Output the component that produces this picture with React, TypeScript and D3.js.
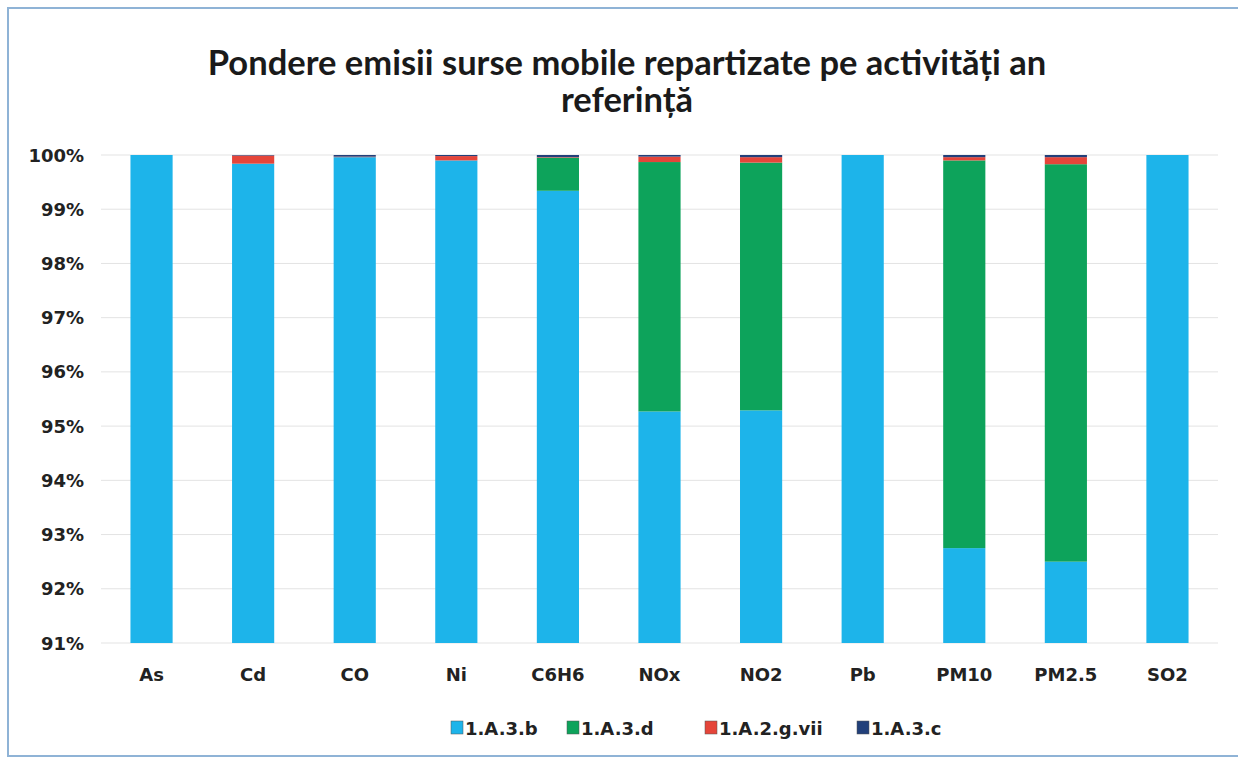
import React from "react";
import * as d3 from "d3";

const categories = ["As", "Cd", "CO", "Ni", "C6H6", "NOx", "NO2", "Pb", "PM10", "PM2.5", "SO2"];
const seriesNames = ["1.A.3.b", "1.A.3.d", "1.A.2.g.vii", "1.A.3.c"];
const s_1A3b = [100, 99.84, 99.96, 99.9, 99.34, 95.27, 95.29, 100, 92.75, 92.5, 100];
const s_1A3d = [0, 0, 0, 0, 0.61, 4.6, 4.57, 0, 7.15, 7.33, 0];
const s_1A2gvii = [0, 0.15, 0.01, 0.08, 0.01, 0.1, 0.1, 0, 0.06, 0.13, 0];
const s_1A3c = [0, 0.01, 0.03, 0.02, 0.04, 0.03, 0.04, 0, 0.04, 0.04, 0];
const yTicks = [91, 92, 93, 94, 95, 96, 97, 98, 99, 100];
const colors = ["#1db4ea", "#0da35b", "#e5453a", "#22407a"];

const TFONT = "Lato, 'Open Sans', sans-serif";
const FONT = "'DejaVu Sans', Verdana, sans-serif";

export default function App() {
  const W = 1238, H = 759;
  const left = 101, right = 1218, top = 155, bottom = 643;
  const rows = categories.map((c, i) => ({
    cat: c,
    "1.A.3.b": s_1A3b[i],
    "1.A.3.d": s_1A3d[i],
    "1.A.2.g.vii": s_1A2gvii[i],
    "1.A.3.c": s_1A3c[i],
  }));
  const stack = d3.stack<any>().keys(seriesNames)(rows);
  const x = d3.scaleBand().domain(categories).range([left, right]).paddingInner(0.585).paddingOuter(0.29);
  const y = d3.scaleLinear().domain([91, 100]).range([bottom, top]);
  const yc = (v: number) => y(Math.max(91, Math.min(100, v)));
  const legendX = [451, 567, 705, 857];

  return (
    <svg width={W} height={H} style={{ position: "absolute", left: 0, top: 0, background: "#fff" }}>
      <rect x={8} y={8} width={1250} height={748} fill="#fff" stroke="#8fb3d6" strokeWidth={2} />
      <text x={627} y={75} textAnchor="middle" fontFamily={TFONT} fontWeight={700} fontSize={34.5} fill="#1a1a1a">
        Pondere emisii surse mobile repartizate pe activități an
      </text>
      <text x={627} y={112} textAnchor="middle" fontFamily={TFONT} fontWeight={700} fontSize={34.5} fill="#1a1a1a">
        referință
      </text>
      {yTicks.map((t) => (
        <g key={t}>
          <line x1={left} x2={right} y1={y(t)} y2={y(t)} stroke="#e3e3e3" strokeWidth={1} />
          <text x={84} y={y(t) + 6.5} textAnchor="end" fontFamily={FONT} fontWeight={700} fontSize={18} fill="#222">
            {t}%
          </text>
        </g>
      ))}
      {stack.map((layer, si) => (
        <g key={seriesNames[si]} fill={colors[si]}>
          {layer.map((d, i) => {
            const h = yc(d[0]) - yc(d[1]);
            if (h <= 0) return null;
            return (
              <rect key={i} x={x(categories[i])} width={x.bandwidth()} y={yc(d[1])} height={h} />
            );
          })}
        </g>
      ))}
      {categories.map((c) => (
        <text key={c} x={(x(c) as number) + x.bandwidth() / 2} y={681} textAnchor="middle" fontFamily={FONT} fontWeight={700} fontSize={18} fill="#222">
          {c}
        </text>
      ))}
      {seriesNames.map((s, i) => (
        <g key={s}>
          <rect x={legendX[i]} y={721} width={12} height={13} fill={colors[i]} stroke="#555" strokeWidth={0.5} />
          <text x={legendX[i] + 14} y={735} fontFamily={FONT} fontWeight={700} fontSize={18} fill="#222">
            {s}
          </text>
        </g>
      ))}
    </svg>
  );
}
